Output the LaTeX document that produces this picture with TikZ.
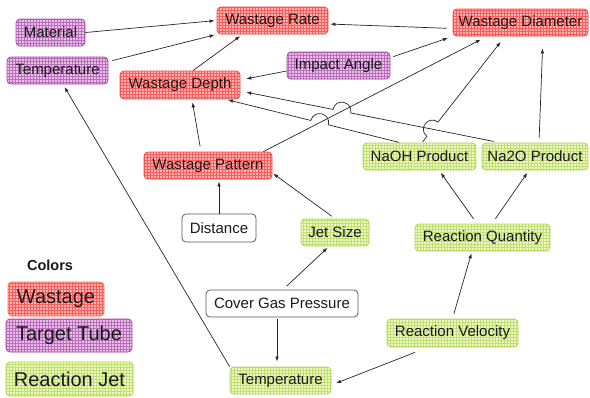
\documentclass[tikz,border=0pt]{standalone}
\usepackage{fontspec}
\setmainfont{Liberation Sans}
\usetikzlibrary{arrows.meta,patterns,calc,intersections}
\definecolor{redfill}{HTML}{FFB4B4}
\definecolor{redgrid}{HTML}{FF5C5C}
\definecolor{redline}{HTML}{F04848}
\definecolor{legline}{HTML}{F07850}
\definecolor{purfill}{HTML}{E6C2E6}
\definecolor{purgrid}{HTML}{BC6CBC}
\definecolor{purline}{HTML}{A448A4}
\definecolor{grnfill}{HTML}{EEF7C8}
\definecolor{grngrid}{HTML}{C2E070}
\definecolor{grnline}{HTML}{B0D650}
\definecolor{txt}{HTML}{1A1A1A}
\tikzset{
  box/.style={rounded corners=4pt, inner sep=0pt, line width=0.8pt,
    font=\fontsize{15}{17}\selectfont, text=txt},
  redbox/.style={box, draw=redline, preaction={fill=redfill}, pattern=grid, pattern color=redgrid},
  purbox/.style={box, draw=purline, preaction={fill=purfill}, pattern=grid, pattern color=purgrid},
  grnbox/.style={box, draw=grnline, preaction={fill=grnfill}, pattern=grid, pattern color=grngrid},
  plainbox/.style={box, draw=black!65, fill=white},
  legfont/.style={font=\fontsize{20}{23}\selectfont},
  conn/.style={draw=black!85, line width=0.7pt, -{Latex[length=5pt,width=3.6pt]}},
}
\begin{document}
\begin{tikzpicture}[x=1pt,y=-1pt]
\useasboundingbox (0,0) rectangle (590,397);

% nodes
\node[redbox, minimum width=111pt, minimum height=27pt] (wr) at (272.5,20.5) {Wastage Rate};
\node[purbox, minimum width=69pt, minimum height=27pt] (mat) at (50.5,32.5) {Material};
\node[purbox, minimum width=101pt, minimum height=27pt] (tp) at (57.5,70.5) {Temperature};
\node[redbox, minimum width=120pt, minimum height=28pt] (wd) at (180,85) {Wastage Depth};
\node[purbox, minimum width=103pt, minimum height=27pt] (ia) at (338.5,65.5) {Impact Angle};
\node[redbox, minimum width=135pt, minimum height=27pt] (wdia) at (520.5,22.5) {Wastage Diameter};
\node[redbox, minimum width=128pt, minimum height=27pt] (wp) at (208,165.5) {Wastage Pattern};
\node[grnbox, minimum width=113pt, minimum height=27pt] (naoh) at (419.5,156.5) {NaOH Product};
\node[grnbox, minimum width=106pt, minimum height=27pt] (na2o) at (535,156.5) {Na2O Product};
\node[grnbox, minimum width=135pt, minimum height=27pt] (rq) at (482.5,237.5) {Reaction Quantity};
\node[grnbox, minimum width=68pt, minimum height=27pt] (js) at (335,232.5) {Jet Size};
\node[plainbox, minimum width=74pt, minimum height=28pt] (dist) at (219,228) {Distance};
\node[plainbox, minimum width=152pt, minimum height=27pt] (cgp) at (282,303.5) {Cover Gas Pressure};
\node[grnbox, minimum width=101pt, minimum height=27pt] (tg) at (280.5,380.5) {Temperature};
\node[grnbox, minimum width=131pt, minimum height=28pt] (rv) at (452.5,333) {Reaction Velocity};

% legend
\node[font=\fontsize{14.5}{16}\selectfont\bfseries, text=txt] (leg) at (50,265) {Colors};
\node[redbox, draw=legline, legfont, minimum width=96pt, minimum height=34pt] (lw) at (56,299) {Wastage};
\node[purbox, legfont, minimum width=126pt, minimum height=33pt] (lt) at (69,335.5) {Target Tube};
\node[grnbox, legfont, minimum width=127pt, minimum height=34pt] (lr) at (69.5,379) {Reaction Jet};

% connector end points
\coordinate (s7) at ([xshift=-9pt]wp.north east);
\coordinate (e7) at ([xshift=-33.5pt]wdia.south);
\coordinate (s8) at ([xshift=2.5pt]naoh.north);
\coordinate (e8) at ([xshift=-15.5pt]wdia.south);
\coordinate (s9) at ([xshift=-19.5pt]naoh.north);
\coordinate (e9) at ([xshift=46pt]wd.south);
\coordinate (s10) at ([xshift=18pt]na2o.north west);
\coordinate (e10) at ([yshift=-6pt]wd.east);

\path[name path=L7] (s7) -- (e7);
\path[name path=L8] (s8) -- (e8);
\path[name path=L9] (s9) -- (e9);
\path[name path=L10] (s10) -- (e10);
\path[name intersections={of=L7 and L9, by=x9}];
\path[name intersections={of=L7 and L10, by=x10}];
\path[name intersections={of=L8 and L10, by=x8}];

\coordinate (x9a) at ($(x9)!9pt!(s9)$);
\coordinate (x9b) at ($(x9)!9pt!(e9)$);
\coordinate (x9c) at ($(x9a)!12pt!-90:(x9)$);
\coordinate (x9d) at ($(x9b)!12pt!90:(x9)$);
\coordinate (x10a) at ($(x10)!9pt!(s10)$);
\coordinate (x10b) at ($(x10)!9pt!(e10)$);
\coordinate (x10c) at ($(x10a)!12pt!-90:(x10)$);
\coordinate (x10d) at ($(x10b)!12pt!90:(x10)$);
\coordinate (x8a) at ($(x8)!9pt!(s8)$);
\coordinate (x8b) at ($(x8)!9pt!(e8)$);
\coordinate (x8c) at ($(x8a)!12pt!90:(x8)$);
\coordinate (x8d) at ($(x8b)!12pt!-90:(x8)$);

% connectors
\draw[conn, shorten >=2pt] (mat.east) -- (wr.west);
\draw[conn, shorten >=2pt] ([xshift=4pt,yshift=-4pt]tp.north east) -- (wr.south west);
\draw[conn, shorten >=3pt] ([xshift=13pt]wd.north) -- ([xshift=-30pt]wr.south);
\draw[conn, shorten <=6pt, shorten >=2pt] ([yshift=-6pt]wdia.west) -- ([yshift=-3.5pt]wr.east);
\draw[conn, shorten >=6pt] ([yshift=-5.5pt]ia.west) -- ([yshift=5pt]wd.east);
\draw[conn, shorten >=5pt] ([xshift=3pt,yshift=-5pt]ia.north east) -- (wdia.south west);
\draw[conn, shorten >=7pt] (s7) -- (e7);
\draw[conn, shorten <=1pt, shorten >=7pt] (s8) -- (x8a) .. controls (x8c) and (x8d) .. (x8b) -- (e8);
\draw[conn, shorten <=1pt, shorten >=2pt] (s9) -- (x9a) .. controls (x9c) and (x9d) .. (x9b) -- (e9);
\draw[conn, shorten <=6pt, shorten >=6pt] (s10) -- (x10a) .. controls (x10c) and (x10d) .. (x10b) -- (e10);
\draw[conn, shorten <=5pt, shorten >=12pt] ([xshift=4pt]na2o.north) -- ([xshift=22.5pt]wdia.south);
\draw[conn, shorten <=5pt, shorten >=3pt] ([xshift=-7pt]wp.north) -- ([xshift=12pt]wd.south);
\draw[conn, shorten >=2pt] (dist.north) -- ([xshift=11pt]wp.south);
\draw[conn, shorten <=4pt, shorten >=1pt] (js.north) -- ([yshift=-7.5pt]wp.east);
\draw[conn, shorten <=5pt, shorten >=2pt] ([xshift=1pt]cgp.north) -- ([xshift=-6pt]js.south);
\draw[conn, shorten <=2pt, shorten >=5pt] ([xshift=-5pt]cgp.south) -- ([xshift=-3.5pt]tg.north);
\draw[conn, shorten >=5pt] ([xshift=-37.5pt,yshift=-5pt]rv.south) -- ([yshift=-4.5pt]tg.east);
\draw[conn, shorten <=5pt, shorten >=2pt] (rv.north) -- ([xshift=-10.5pt]rq.south);
\draw[conn, shorten <=6pt, shorten >=3pt] ([xshift=-5.5pt]rq.north) -- ([xshift=19.5pt]naoh.south);
\draw[conn, shorten <=6pt, shorten >=3pt] ([xshift=9.5pt]rq.north) -- ([xshift=-6pt]na2o.south);
\draw[conn, shorten >=3pt] (tg.north west) -- ([xshift=5.5pt]tp.south);
\end{tikzpicture}
\end{document}
